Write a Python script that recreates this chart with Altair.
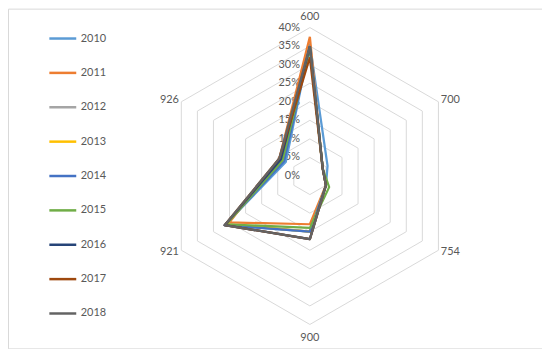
import altair as alt
import pandas as pd

categories = ["600", "700", "754", "900", "921", "926"]
years = ["2010", "2011", "2012", "2013", "2014", "2015", "2016", "2017", "2018"]
colors = ["#5B9BD5", "#ED7D31", "#A5A5A5", "#FFC000", "#4472C4",
          "#70AD47", "#264478", "#9E480E", "#636363"]

# shares (%) per year, in category order
v2010 = [35.5, 5.5, 5.0, 15.0, 26.5, 7.5]
v2011 = [37.5, 4.0, 5.0, 13.0, 25.0, 9.5]
v2012 = [35.0, 4.0, 5.0, 15.0, 26.0, 8.5]
v2013 = [35.0, 4.0, 5.0, 15.0, 26.0, 8.5]
v2014 = [35.0, 4.0, 5.0, 15.0, 26.5, 8.0]
v2015 = [34.5, 4.0, 6.0, 14.0, 26.0, 8.5]
v2016 = [35.0, 4.0, 5.0, 17.0, 26.5, 9.0]
v2017 = [32.0, 4.0, 5.0, 17.0, 26.5, 9.5]
v2018 = [35.0, 4.0, 5.0, 17.0, 26.5, 9.5]
series = [v2010, v2011, v2012, v2013, v2014, v2015, v2016, v2017, v2018]

levels = [0, 5, 10, 15, 20, 25, 30, 35, 40]

rows = []
for yi, (yr, vals) in enumerate(zip(years, series)):
    for i in range(7):
        rows.append({"year": yr, "yi": yi, "idx": i, "value": vals[i % 6]})
df = pd.DataFrame(rows)

grid_rows = []
for lv in levels[1:]:
    for i in range(7):
        grid_rows.append({"level": lv, "idx": i, "value": lv})
grid = pd.DataFrame(grid_rows)

lab = pd.DataFrame({"cat": categories, "idx": list(range(6)),
                    "value": [42.9, 43.7, 43.7, 43.7, 43.7, 43.7]})
ticks = pd.DataFrame({"level": levels, "txt": [f"{l}%" for l in levels]})

W, H = 536, 341
cx, cy = 303, 168
ppu = 149 / 40.0
xdom = [-cx / ppu, (W - cx) / ppu]
ydom = [-(H - cy) / ppu, cy / ppu]

xs = alt.Scale(domain=xdom, nice=False, zero=False)
ys = alt.Scale(domain=ydom, nice=False, zero=False)

def polar(ch):
    return ch.transform_calculate(
        px="datum.value * sin(datum.idx * PI / 3)",
        py="datum.value * cos(datum.idx * PI / 3)",
    )

grid_layer = polar(alt.Chart(grid)).mark_line(color="#d9d9d9", strokeWidth=1).encode(
    x=alt.X("px:Q", scale=xs, axis=None),
    y=alt.Y("py:Q", scale=ys, axis=None),
    detail="level:N",
    order="idx:Q",
)

lines = polar(alt.Chart(df)).mark_line(strokeWidth=2.25, strokeJoin="round").encode(
    x=alt.X("px:Q", scale=xs, axis=None),
    y=alt.Y("py:Q", scale=ys, axis=None),
    color=alt.Color("year:N", scale=alt.Scale(domain=years, range=colors),
                    legend=alt.Legend(title=None, orient="none", legendX=40, legendY=15,
                                      symbolType="stroke", symbolSize=729,
                                      symbolStrokeWidth=2.5, labelFontSize=11,
                                      labelColor="#595959", labelFont="Lato",
                                      labelOffset=3, rowPadding=14.5, padding=0)),
    order="idx:Q",
)

cat_labels = alt.Chart(lab).transform_calculate(
    px="datum.value * sin(datum.idx * PI / 3)",
    py="datum.value * cos(datum.idx * PI / 3) * (abs(cos(datum.idx * PI / 3)) < 0.9 ? 0.94 : 1)",
).mark_text(fontSize=11, color="#595959", font="Lato",
            align="center", baseline="middle").encode(
    x=alt.X("px:Q", scale=xs, axis=None),
    y=alt.Y("py:Q", scale=ys, axis=None),
    text="cat:N",
)

tick_labels = alt.Chart(ticks).mark_text(fontSize=11, color="#595959", font="Lato",
                                         align="right", baseline="middle", dx=-10).encode(
    x=alt.X("zero:Q", scale=xs, axis=None),
    y=alt.Y("level:Q", scale=ys, axis=None),
    text="txt:N",
).transform_calculate(zero="0")

chart = alt.layer(grid_layer, tick_labels, lines, cat_labels).properties(
    width=W, height=H, padding=0, autosize="none"
).configure_view(stroke="#d9d9d9", strokeWidth=1)

chart.save("out.html", embed_options={"renderer": "svg", "actions": False})
